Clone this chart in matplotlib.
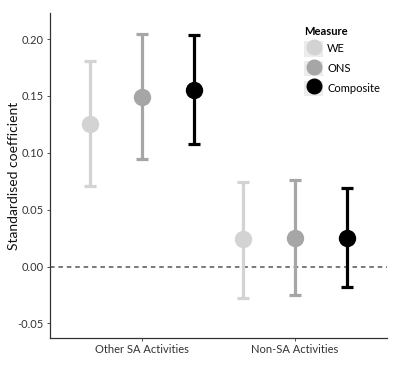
import matplotlib
matplotlib.use("Agg")
import matplotlib.pyplot as plt
from matplotlib.patches import Patch
from matplotlib.lines import Line2D
from matplotlib.legend_handler import HandlerTuple
import numpy as np

plt.rcParams['font.family'] = ['Lato', 'DejaVu Sans']

categories = ['Other SA Activities', 'Non-SA Activities']
measures = ['WE', 'ONS', 'Composite']
colors = ['#d3d3d3', '#a6a6a6', '#000000']

# estimate, lower CI, upper CI per measure (Other SA, Non-SA)
est = {'WE': [0.1256, 0.0239], 'ONS': [0.149, 0.0253], 'Composite': [0.1548, 0.0253]}
lower = {'WE': [0.0704, -0.0274], 'ONS': [0.0949, -0.0247], 'Composite': [0.1075, -0.0183]}
upper = {'WE': [0.1806, 0.0744], 'ONS': [0.204, 0.0759], 'Composite': [0.2033, 0.0691]}

fig = plt.figure(figsize=(4, 3.73), dpi=100)
ax = fig.add_axes([0.125, 0.094, 0.8425, 0.871])

x = np.arange(1, len(categories) + 1)
offsets = [-0.337, 0, 0.337]

handles = []
for m, c, off in zip(measures, colors, offsets):
    e = np.array(est[m])
    lo = e - np.array(lower[m])
    hi = np.array(upper[m]) - e
    ax.errorbar(x + off, e, yerr=[lo, hi], fmt='o', color=c, ms=11.5,
                elinewidth=2.3, capsize=4.5, capthick=2.3, zorder=3)
    handles.append((Patch(facecolor='#ececec', edgecolor='none'),
                    Line2D([], [], marker='o', ls='', color=c, ms=10.5)))

ax.axhline(0, color='#555555', ls=(0, (3, 2.5)), lw=1.1, zorder=1)

ax.set_xlim(0.4, 2.6)
ax.set_ylim(-0.0627, 0.2228)
ax.set_xticks(x)
ax.set_xticklabels(categories)
ax.set_yticks([-0.05, 0, 0.05, 0.10, 0.15, 0.20])
ax.set_yticklabels(['-0.05', '0.00', '0.05', '0.10', '0.15', '0.20'])
ax.tick_params(labelsize=8, colors='#333333', length=2.5, width=0.6, pad=2)
ax.set_ylabel('Standardised coefficient', fontsize=10, color='#111111')
ax.yaxis.set_label_coords(-0.09, 0.5)

for s in ['top', 'right']:
    ax.spines[s].set_visible(False)
for s in ['left', 'bottom']:
    ax.spines[s].set_color('#333333')
    ax.spines[s].set_linewidth(0.9)

leg = ax.legend(handles, measures, handler_map={tuple: HandlerTuple(ndivide=1)},
                title='Measure', loc='upper left', bbox_to_anchor=(0.73, 0.985),
                frameon=False, fontsize=8, title_fontsize=8,
                handlelength=1.75, handleheight=1.75, labelspacing=0.4,
                handletextpad=0.35, borderpad=0.2)
leg.get_title().set_fontweight('bold')
leg._legend_box.align = 'left'

fig.savefig('out.png', dpi=100)
